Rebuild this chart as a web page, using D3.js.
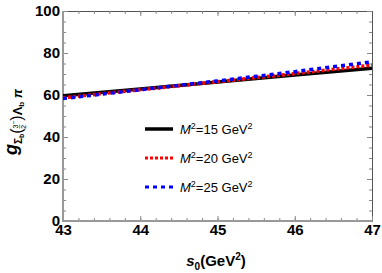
<!DOCTYPE html>
<html>
<head>
<meta charset="utf-8">
<script src="https://cdn.jsdelivr.net/npm/d3@7"></script>
<style>
  body { margin: 0; background: #fff; }
  text { font-family: "Liberation Sans", Arial, sans-serif; }
</style>
</head>
<body>
<div id="chart"></div>
<script>
// data
const s0 = [43, 44, 45, 46, 47];
const m15 = [59.6, 62.9, 66.2, 69.5, 72.8];
const m20 = [58.7, 62.5, 66.3, 70.2, 74.2];
const m25 = [58.3, 62.5, 66.7, 71.1, 75.8];
const seriesNames = ["15", "20", "25"];
const xTicks = [43, 44, 45, 46, 47];
const yTicks = [0, 20, 40, 60, 80, 100];

const w = 382, h = 273;
const pLeft = 63, pRight = 372, pTop = 11, pBottom = 221;

const svg = d3.select("#chart").append("svg")
  .attr("width", w).attr("height", h);

const xScale = d3.scaleLinear().domain([43, 47]).range([pLeft, pRight]);
const yScale = d3.scaleLinear().domain([0, 100]).range([pBottom, pTop]);

// minor ticks
const xMinor = d3.range(43, 47.001, 0.2);
const yMinor = d3.range(0, 100.001, 5);

const grey = g => g.selectAll("line").attr("stroke", "#888");
const boldText = g => g.selectAll("text").attr("font-size", 15).attr("font-weight", "bold")
  .attr("fill", "#000").attr("font-family", "Liberation Sans, Arial, sans-serif");

// frame top and right (thin)
svg.append("g").attr("transform", `translate(0,${pTop})`)
  .call(d3.axisTop(xScale).tickValues(xMinor).tickSize(-3).tickFormat(""))
  .call(grey)
  .call(g => g.select(".domain").attr("stroke", "#555"));
svg.append("g").attr("transform", `translate(0,${pTop})`)
  .call(d3.axisTop(xScale).tickValues(xTicks).tickSize(-5).tickFormat(""))
  .call(grey)
  .call(g => g.select(".domain").remove());
svg.append("g").attr("transform", `translate(${pRight},0)`)
  .call(d3.axisRight(yScale).tickValues(yMinor).tickSize(-3).tickFormat(""))
  .call(grey)
  .call(g => g.select(".domain").attr("stroke", "#555"));
svg.append("g").attr("transform", `translate(${pRight},0)`)
  .call(d3.axisRight(yScale).tickValues(yTicks).tickSize(-5).tickFormat(""))
  .call(grey)
  .call(g => g.select(".domain").remove());

// bottom axis
svg.append("g").attr("transform", `translate(0,${pBottom})`)
  .call(d3.axisBottom(xScale).tickValues(xMinor).tickSize(-3).tickFormat(""))
  .call(grey)
  .call(g => g.select(".domain").remove());
svg.append("g").attr("transform", `translate(0,${pBottom})`)
  .call(d3.axisBottom(xScale).tickValues(xTicks).tickSize(-5).tickPadding(3).tickFormat(d3.format("d")))
  .call(grey)
  .call(g => g.select(".domain").remove())
  .call(boldText);

// left axis
svg.append("g").attr("transform", `translate(${pLeft},0)`)
  .call(d3.axisLeft(yScale).tickValues(yMinor).tickSize(-3).tickFormat(""))
  .call(grey)
  .call(g => g.select(".domain").remove());
svg.append("g").attr("transform", `translate(${pLeft},0)`)
  .call(d3.axisLeft(yScale).tickValues(yTicks).tickSize(-5).tickPadding(3).tickFormat(d3.format("d")))
  .call(grey)
  .call(g => g.select(".domain").remove())
  .call(boldText);

// thick gray axis lines
svg.append("line").attr("x1", pLeft).attr("x2", pLeft).attr("y1", pTop).attr("y2", pBottom + 1)
  .attr("stroke", "#999").attr("stroke-width", 2);
svg.append("line").attr("x1", pLeft - 1).attr("x2", pRight).attr("y1", pBottom).attr("y2", pBottom)
  .attr("stroke", "#999").attr("stroke-width", 2);

// lines
svg.append("clipPath").attr("id", "clip").append("rect")
  .attr("x", pLeft).attr("y", pTop).attr("width", pRight - pLeft).attr("height", pBottom - pTop);

const line = d3.line().x((d, i) => xScale(s0[i])).y(d => yScale(d));
const styles = [
  { data: m15, color: "#000", width: 3.5, dash: null },
  { data: m20, color: "#ff0000", width: 3.5, dash: "3,2" },
  { data: m25, color: "#0000ff", width: 3.5, dash: "4,4" }
];
styles.forEach(s => {
  svg.append("path").datum(s.data)
    .attr("d", line)
    .attr("fill", "none")
    .attr("stroke", s.color)
    .attr("stroke-width", s.width)
    .attr("stroke-dasharray", s.dash)
    .attr("clip-path", "url(#clip)");
});

// legend
const legY = [129, 158, 187];
styles.forEach((s, i) => {
  svg.append("line").attr("x1", 145).attr("x2", 173).attr("y1", legY[i]).attr("y2", legY[i])
    .attr("stroke", s.color).attr("stroke-width", i === 0 ? 3.5 : 3)
    .attr("stroke-dasharray", s.dash);
  const t = svg.append("text").attr("x", 180).attr("y", legY[i] + 5).attr("font-size", 13);
  t.append("tspan").attr("font-style", "italic").text("M");
  t.append("tspan").attr("font-size", 9).attr("dy", -5).text("2");
  t.append("tspan").attr("dy", 5).text("=" + seriesNames[i] + " GeV");
  t.append("tspan").attr("font-size", 9).attr("dy", -5).text("2");
});

// x label
const xl = svg.append("text").attr("x", 216).attr("y", 266).attr("text-anchor", "middle")
  .attr("font-size", 15).attr("font-weight", "bold");
xl.append("tspan").attr("font-style", "italic").text("s");
xl.append("tspan").attr("font-size", 10).attr("dy", 4).text("0");
xl.append("tspan").attr("dy", -4).text("(GeV");
xl.append("tspan").attr("font-size", 10).attr("dy", -6).text("2");
xl.append("tspan").attr("dy", 6).text(")");

// y label
const yl = svg.append("text").attr("transform", "translate(17,122) rotate(-90)")
  .attr("text-anchor", "middle").attr("font-size", 11).attr("font-weight", "bold");
yl.append("tspan").attr("font-size", 18).attr("font-style", "italic").text("g");
yl.append("tspan").attr("font-size", 10).attr("dy", 5).text("Σ");
yl.append("tspan").attr("font-size", 7).attr("dy", 2).text("b");
yl.append("tspan").attr("font-size", 16).attr("dy", -2).attr("font-weight", "normal").text("(");
yl.append("tspan").attr("font-size", 7).attr("dy", -4).attr("font-weight", "normal").text("3");
yl.append("tspan").attr("font-size", 7).attr("dx", -4).attr("dy", 3).attr("font-weight", "normal").text("–");
yl.append("tspan").attr("font-size", 7).attr("dx", -4).attr("dy", 5).attr("font-weight", "normal").text("2");
yl.append("tspan").attr("font-size", 7).attr("dy", -10).attr("font-weight", "normal").text("−");
yl.append("tspan").attr("font-size", 16).attr("dy", 6).attr("font-weight", "normal").text(")");
yl.append("tspan").attr("font-size", 13).text("Λ");
yl.append("tspan").attr("font-size", 8).attr("dy", 2).text("b");
yl.append("tspan").attr("font-size", 13).attr("dy", -2).attr("font-style", "italic").text(" π");
</script>
</body>
</html>
